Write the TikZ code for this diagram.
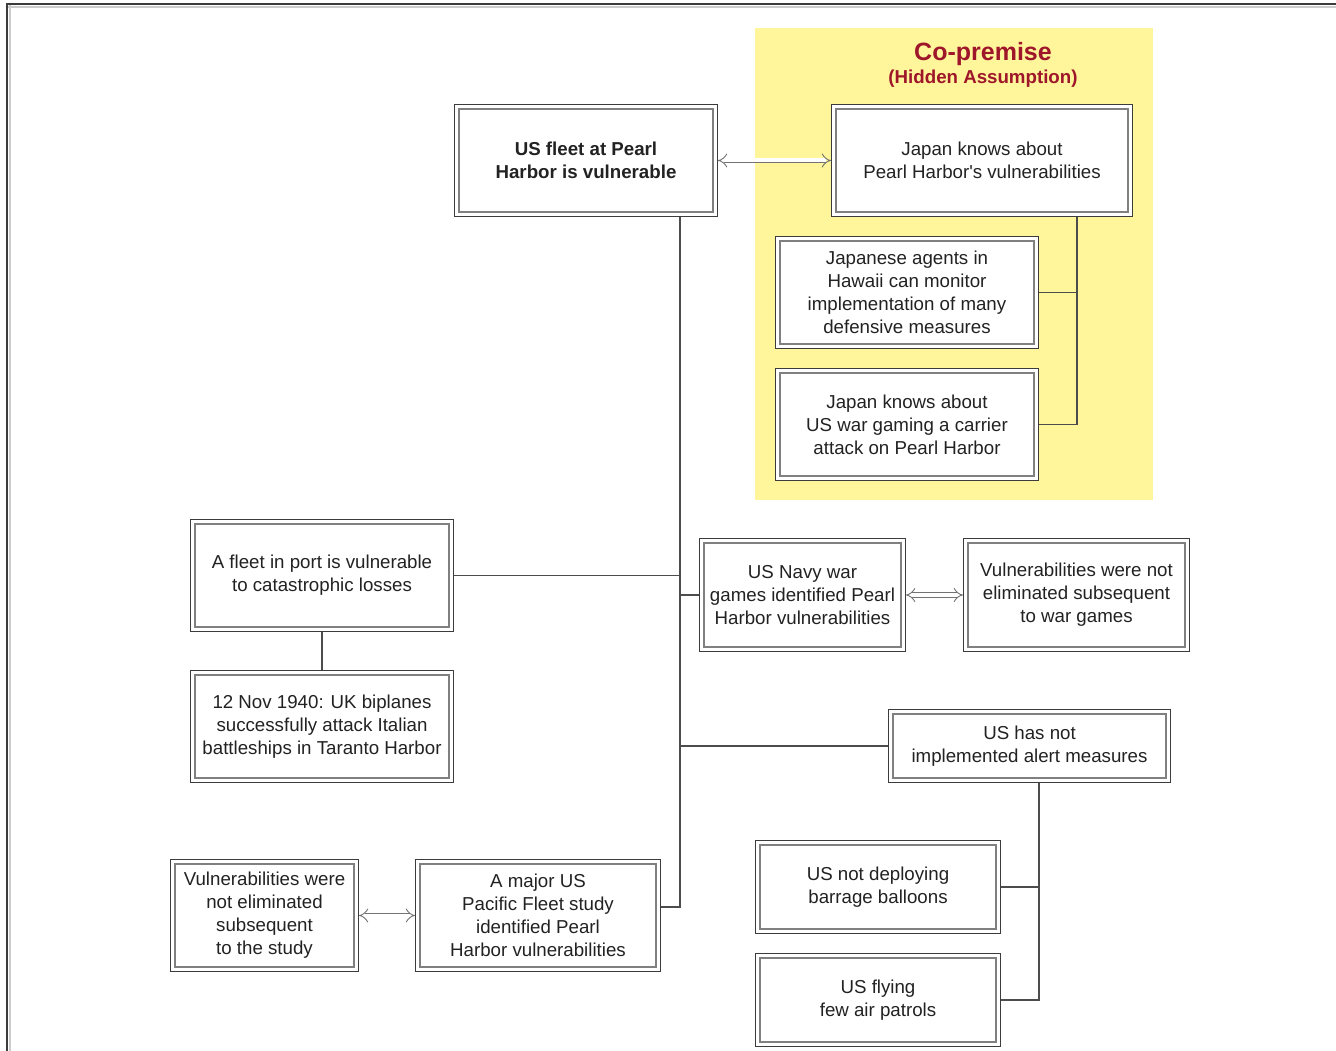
\documentclass[tikz,border=0pt]{standalone}
\usepackage{fontspec}
\setmainfont{Liberation Sans}[Ligatures=TeXOff]
\usetikzlibrary{arrows.meta}
\definecolor{cpyellow}{RGB}{255,245,154}
\definecolor{cpred}{RGB}{158,22,42}
\definecolor{txt}{RGB}{34,34,34}
\definecolor{edge}{RGB}{60,60,60}
\begin{document}
\begin{tikzpicture}[x=1pt,y=-1pt,
  box/.style={draw=edge, line width=1pt, fill=white, align=center, text=txt,
    font=\fontsize{18.7}{23}\selectfont, inner sep=0pt,
    path picture={\draw[black!50, line width=1.8pt]
      ([shift={(4.5pt,4.5pt)}]path picture bounding box.south west) rectangle
      ([shift={(-4.5pt,-4.5pt)}]path picture bounding box.north east);}},
  conn/.style={draw=black!70, line width=1.1pt},
  dbl/.style={draw=black!55, double=white, double distance=4pt, line width=0.9pt,
    {Implies[length=6pt,width=14pt]}-{Implies[length=6pt,width=14pt]}},
]
\useasboundingbox (0,0) rectangle (1336,1051);
% frame
\draw[black!20, line width=2pt] (8,7) -- (1336,7);
\draw[black!20, line width=2pt] (10,5) -- (10,1051);
\draw[edge, line width=1.5pt] (7,1051) -- (7,4) -- (1336,4);
% co-premise area
\fill[cpyellow] (755,28) rectangle (1153,500);
\node[text=cpred, font=\fontsize{25}{28}\bfseries\selectfont] (cptitle) at (983,54) {Co-premise};
\node[text=cpred, font=\fontsize{18.7}{22}\bfseries\selectfont] (cpsub) at (983,79) {(Hidden Assumption)};

% nodes
\node[box, minimum width=263pt, minimum height=112pt, font=\fontsize{18.7}{23}\bfseries\selectfont] (A) at (586,160.5) {US fleet at Pearl\\Harbor is vulnerable};
\node[box, minimum width=301pt, minimum height=112pt] (B) at (982,160.5) {Japan knows about\\Pearl Harbor's vulnerabilities};
\node[box, minimum width=263pt, minimum height=112pt] (C) at (907,292.5) {Japanese agents in\\Hawaii can monitor\\implementation of many\\defensive measures};
\node[box, minimum width=263pt, minimum height=112pt] (D) at (907,424.5) {Japan knows about\\US war gaming a carrier\\attack on Pearl Harbor};
\node[box, minimum width=263pt, minimum height=112pt] (E) at (322,575.5) {A fleet in port is vulnerable\\to catastrophic losses};
\node[box, minimum width=263pt, minimum height=112pt] (F) at (322,726.5) {12 Nov 1940: UK biplanes\\successfully attack Italian\\battleships in Taranto Harbor};
\node[box, minimum width=206pt, minimum height=113pt] (G) at (802.5,595) {US Navy war\\games identified Pearl\\Harbor vulnerabilities};
\node[box, minimum width=226pt, minimum height=113pt] (H) at (1076.5,595) {Vulnerabilities were not\\eliminated subsequent\\to war games};
\node[box, minimum width=282pt, minimum height=73pt] (I) at (1029.5,746) {US has not\\implemented alert measures};
\node[box, minimum width=245pt, minimum height=93pt] (J) at (878,887) {US not deploying\\barrage balloons};
\node[box, minimum width=245pt, minimum height=93pt] (K) at (878,1000) {US flying\\few air patrols};
\node[box, minimum width=245pt, minimum height=112pt] (L) at (538,915.5) {A major US\\Pacific Fleet study\\identified Pearl\\Harbor vulnerabilities};
\node[box, minimum width=188pt, minimum height=112pt] (M) at (264.5,915.5) {Vulnerabilities were\\not eliminated\\subsequent\\to the study};

% connectors
\coordinate (bx) at (1077,424.5);
\draw[conn] (B.south -| bx) |- (D.east);
\draw[conn] (C.east) -- (C.east -| bx);

\coordinate (tr) at (680,907);
\draw[conn] (A.south -| tr) -- (tr) -- (tr -| L.east);
\draw[conn] (E.east) -- (E.east -| tr);
\draw[conn] (G.west) -- (G.west -| tr);
\draw[conn] (I.west) -- (I.west -| tr);
\draw[conn] (E.south) -- (F.north);

\coordinate (ix) at (1039,1000);
\draw[conn] (I.south -| ix) |- (K.east);
\draw[conn] (J.east) -- (J.east -| ix);

% double arrows
\draw[dbl] (A.east) -- (B.west);
\draw[dbl] (G.east) -- (H.west);
\draw[dbl] (M.east) -- (L.west);
\end{tikzpicture}
\end{document}
